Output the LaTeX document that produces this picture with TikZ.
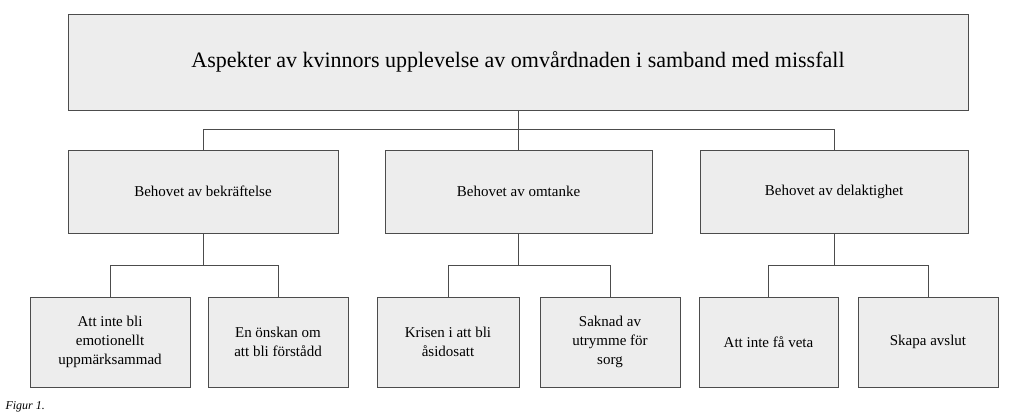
\documentclass[tikz,border=0pt]{standalone}
\usepackage{fontspec}
\setmainfont{Liberation Serif}
\begin{document}
\begin{tikzpicture}[x=1pt,y=-1pt,
  box/.style={draw=black!70,fill=black!7,line width=0.8pt,inner sep=0pt,align=center},
  ln/.style={draw=black!70,line width=0.8pt}]
\useasboundingbox (0,0) rectangle (1023,419);
\node[box,minimum width=900pt,minimum height=96pt,font=\fontsize{22}{26}\selectfont] (top) at (518,62) {Aspekter av kvinnors upplevelse av omvårdnaden i samband med missfall};
\node[box,minimum width=270pt,minimum height=83pt,font=\fontsize{15}{18}\selectfont] (m1) at (203,191.5) {Behovet av bekräftelse};
\node[box,minimum width=267pt,minimum height=83pt,font=\fontsize{15}{18}\selectfont] (m2) at (518.5,191.5) {Behovet av omtanke};
\node[box,minimum width=268pt,minimum height=83pt,font=\fontsize{15}{18}\selectfont] (m3) at (834,191.5) {Behovet av delaktighet};
\tikzset{bb/.style={box,minimum width=140pt,minimum height=90pt,font=\fontsize{15}{19}\selectfont}}
\node[bb,minimum width=160pt] (b1) at (110,342) {Att inte bli\\emotionellt\\uppmärksammad};
\node[bb] (b2) at (278,342) {En önskan om\\att bli förstådd};
\node[bb,minimum width=142pt] (b3) at (448,342) {Krisen i att bli\\åsidosatt};
\node[bb] (b4) at (610,342) {Saknad av\\utrymme för\\sorg};
\node[bb,minimum width=139pt] (b5) at (768.5,342) {Att inte få veta};
\node[bb] (b6) at (928,342) {Skapa avslut};
\node[anchor=west,font=\fontsize{12}{14}\selectfont\itshape] (cap) at (2,407) {Figur 1.};
\draw[ln] (top.south) -- (518,129) coordinate (j0);
\draw[ln] (m1.north) -- (m1.north|-j0) -- (m3.north|-j0) -- (m3.north);
\draw[ln] (m2.north) -- (m2.north|-j0);
\foreach \m/\a/\b in {m1/b1/b2,m2/b3/b4,m3/b5/b6}{
  \draw[ln] (\m.south) -- ++(0,32) coordinate (j);
  \draw[ln] (\a.north) -- (\a.north|-j) -- (\b.north|-j) -- (\b.north);
}
\end{tikzpicture}
\end{document}
